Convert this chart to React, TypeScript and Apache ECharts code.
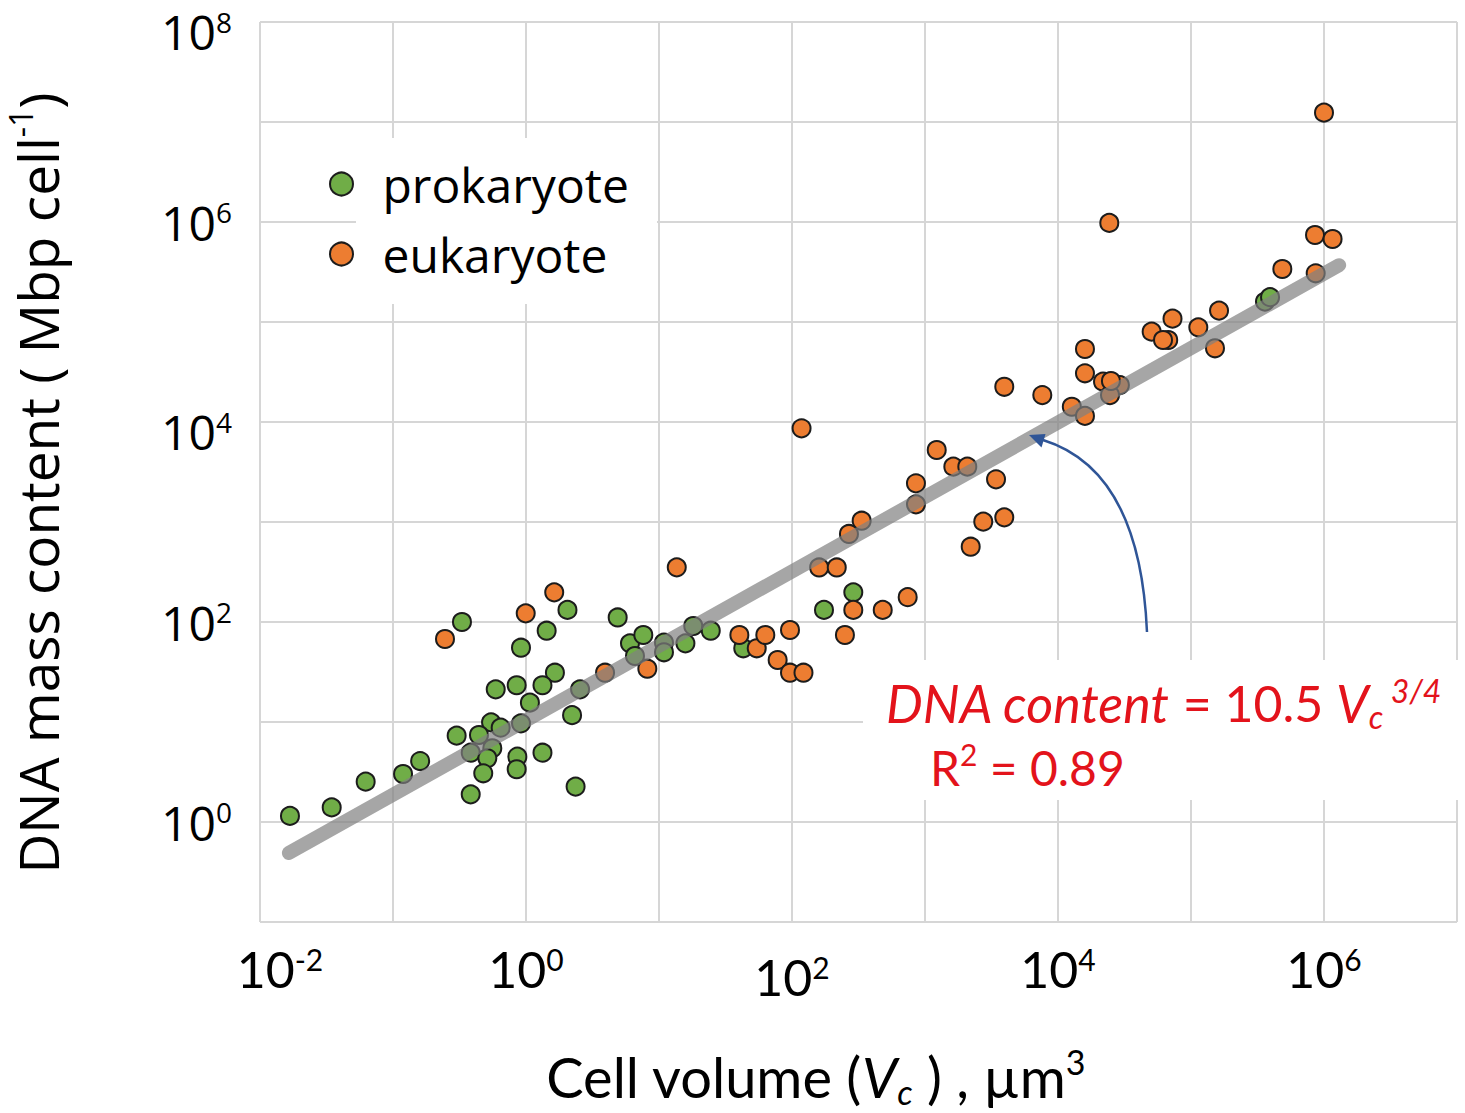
import React, { useEffect, useRef } from 'react';
import * as echarts from 'echarts';

// Cell volume (µm³) and DNA content (Mbp cell⁻¹)
const prokVolume = [
  0.0168, 0.0346, 0.0623, 0.119, 0.16, 0.301, 0.33, 2.05, 4.89, 1.43, 0.917,
  6.05, 7.62, 6.6, 1.65, 0.592, 0.851, 1.33, 1.07, 2.55, 2.22, 0.546, 0.645,
  0.917, 0.443, 0.384, 0.558, 0.512, 0.861, 0.851, 1.33, 0.477, 0.384, 2.36,
  10.9, 10.9, 15.8, 18.1, 24.5, 43.0, 174, 289, 3.6e5, 3.93e5,
];
const prokDNA = [
  1.15, 1.4, 2.53, 3.02, 4.07, 7.3, 100, 132, 111, 81.8, 55.3,
  61.2, 74.1, 45.7, 31.1, 21.2, 23.3, 23.3, 15.6, 21.2, 11.7, 9.93, 8.77,
  9.7, 7.41, 4.93, 5.46, 4.34, 4.5, 3.37, 4.93, 3.07, 1.89, 2.26,
  62.1, 49.8, 61.2, 91.2, 81.8, 54.6, 132, 198, 1.6e5, 1.77e5,
];
const eukVolume = [
  0.246, 1.63, 0.995, 3.93, 13.6, 8.17, 40.2, 54.3, 63, 78, 96.6, 96.6, 122,
  160, 217, 118, 1225, 1633, 2080, 3420, 855, 855, 334, 268, 3945, 2742, 2206,
  289, 481, 741, 250, 24300, 3945, 7620, 15950, 15950, 21800, 29200, 24600,
  12700, 15950, 50600, 67400, 72600, 113500, 151500, 162500, 486000, 866000,
  856000, 1.16e6, 1.0e6, 61600, 25000,
];
const eukDNA = [
  67.6, 198, 122, 31.1, 352, 34.1, 74.1, 54.6, 74.1, 41.7, 83.2, 31.1, 31.1,
  351, 351, 8650, 5250, 3575, 3575, 2673, 2438, 1503, 1030, 759, 1114, 1007, 566,
  132, 132, 177, 74.1, 9.8e5, 22500, 18600, 53700, 30700, 25300, 23400, 18600,
  14200, 11500, 80000, 66100, 108000, 88500, 54600, 130000, 339000, 307000,
  741000, 676000, 1.24e7, 66100, 25700,
];
// fitted line end points (DNA content = 10.5 Vc^3/4)
const fitVolume = [0.0165, 1.3e6];
const fitDNA = [0.49, 3.7e5];

const xLabelExps = [-2, 0, 2, 4, 6];
const yLabelExps = [0, 2, 4, 6, 8];
const seriesNames = ['prokaryote', 'eukaryote'];

const supText = (e: number) => (e < 0 ? '-' + Math.abs(e) : String(e));

export default function App() {
  const ref = useRef<HTMLDivElement>(null);

  useEffect(() => {
    document.body.style.margin = '0';
    if (!ref.current) return;
    const chart = echarts.init(ref.current, undefined, { renderer: 'svg' });

    const gridColor = '#d6d6d6';
    const blue = '#2f5597';
    const red = '#e3131b';

    const yb = { fontFamily: 'Open Sans', fontSize: 48, lineHeight: 48, color: '#000' };
    const ys = { fontFamily: 'Open Sans', fontSize: 28, lineHeight: 28, color: '#000', verticalAlign: 'top' };

    const option: any = {
      animation: false,
      backgroundColor: '#ffffff',
      grid: {
        left: 260,
        top: 22,
        width: 1197,
        height: 900,
        containLabel: false,
        outerBoundsMode: 'none',
      },
      legend: {
        data: seriesNames,
        orient: 'vertical',
        left: 329,
        top: 159,
        padding: 0,
        itemGap: 20,
        itemWidth: 72,
        itemHeight: 23,
        icon: 'circle',
        selectedMode: false,
        textStyle: { fontFamily: 'Open Sans', fontSize: 48, color: '#000', lineHeight: 50 },
      },
      xAxis: {
        type: 'log',
        logBase: 10,
        min: 0.01,
        max: 1e7,
        splitNumber: 9,
        axisLine: { show: false },
        axisTick: { show: false },
        splitLine: { show: true, lineStyle: { color: gridColor, width: 2 } },
        axisLabel: {
          margin: 22,
          fontSize: 8,
          lineHeight: 8,
          formatter: (v: number) => {
            const e = Math.round(Math.log10(v));
            if (!xLabelExps.includes(e)) return '';
            const base = e === -2 ? 'bf' : 'b';
            const lead = e === 2 ? '\n' : '';
            return `${lead}{${base}|10}{s|${supText(e)}}`;
          },
          rich: {
            b: { fontFamily: 'Lato', fontSize: 50, lineHeight: 50, color: '#000' },
            bf: { fontFamily: 'Lato', fontSize: 50, lineHeight: 50, color: '#000', padding: [0, 0, 0, 40] },
            s: { fontFamily: 'Lato', fontSize: 30, lineHeight: 30, color: '#000', verticalAlign: 'top' },
          },
        },
        name: '{n|Cell volume (}{i|V}{sub|c}{n| ) , µm}{sup|3}',
        nameLocation: 'middle',
        nameGap: 122,
        nameTextStyle: {
          padding: [0, 86, 0, 0],
          rich: {
            n: { fontFamily: 'Lato', fontSize: 56, lineHeight: 64, color: '#000' },
            i: { fontFamily: 'Lato', fontSize: 56, lineHeight: 64, color: '#000', fontStyle: 'italic' },
            sub: { fontFamily: 'Lato', fontSize: 34, lineHeight: 34, color: '#000', fontStyle: 'italic', verticalAlign: 'bottom' },
            sup: { fontFamily: 'Lato', fontSize: 34, lineHeight: 34, color: '#000', verticalAlign: 'top' },
          },
        },
      },
      yAxis: {
        type: 'log',
        logBase: 10,
        min: 0.1,
        max: 1e8,
        splitNumber: 9,
        axisLine: { show: false },
        axisTick: { show: false },
        splitLine: { show: true, lineStyle: { color: gridColor, width: 2 } },
        axisLabel: {
          margin: 28,
          formatter: (v: number) => {
            const e = Math.round(Math.log10(v));
            if (!yLabelExps.includes(e)) return '';
            const k = e === 8 || e === 4 ? 'sh' : '';
            return `{b${k}|10}{s${k}|${supText(e)}}`;
          },
          rich: {
            b: yb,
            s: ys,
            bsh: { ...yb, verticalAlign: 'bottom' },
            ssh: { fontFamily: 'Open Sans', fontSize: 28, lineHeight: 66, color: '#000' },
          },
        },
        name: '{n|DNA mass content ( Mbp cell}{sup|-1}{n|)}',
        nameLocation: 'middle',
        nameRotate: 90,
        nameGap: 190,
        nameTextStyle: {
          padding: [0, 22, 0, 0],
          rich: {
            n: { fontFamily: 'Open Sans', fontSize: 55, lineHeight: 66, color: '#000' },
            sup: { fontFamily: 'Open Sans', fontSize: 32, lineHeight: 32, color: '#000', verticalAlign: 'top' },
          },
        },
      },
      series: [
        {
          name: seriesNames[0],
          type: 'scatter',
          data: prokVolume.map((v, i) => [v, prokDNA[i]]),
          symbolSize: 18,
          itemStyle: { color: '#70ad47', borderColor: '#1c1c1c', borderWidth: 2, opacity: 1 },
          z: 2,
        },
        {
          name: seriesNames[1],
          type: 'scatter',
          data: eukVolume.map((v, i) => [v, eukDNA[i]]),
          symbolSize: 18,
          itemStyle: { color: '#ed7d31', borderColor: '#1c1c1c', borderWidth: 2, opacity: 1 },
          z: 2,
        },
        {
          name: 'fit',
          type: 'line',
          data: fitVolume.map((v, i) => [v, fitDNA[i]]),
          symbol: 'none',
          silent: true,
          lineStyle: { color: 'rgba(128,128,128,0.7)', width: 14, cap: 'round' },
          z: 3,
        },
      ],
      graphic: [
        {
          type: 'rect',
          z: 1,
          silent: true,
          shape: { x: 356, y: 138, width: 301, height: 166 },
          style: { fill: '#ffffff' },
        },
        {
          type: 'rect',
          z: 1,
          silent: true,
          shape: { x: 863, y: 660, width: 602, height: 140 },
          style: { fill: '#ffffff' },
        },
        {
          type: 'bezierCurve',
          z: 10,
          silent: true,
          shape: { x1: 1147, y1: 632, cpx1: 1140, cpy1: 470, x2: 1043, y2: 440 },
          style: { stroke: blue, lineWidth: 2.5, fill: 'none' },
        },
        {
          type: 'polygon',
          z: 10,
          silent: true,
          shape: { points: [[1029, 435], [1045.5, 434], [1041.5, 447.5]] },
          style: { fill: blue },
        },
        {
          type: 'text',
          z: 10,
          silent: true,
          x: 886,
          y: 703,
          style: {
            text: '{i|DNA content }{n|= 10.5 }{i|V}{sub|c}{sup| 3/4}',
            verticalAlign: 'middle',
            align: 'left',
            rich: {
              i: { fontFamily: 'Lato', fontSize: 52, lineHeight: 58, fontStyle: 'italic', fill: red },
              n: { fontFamily: 'Lato', fontSize: 50, lineHeight: 58, fill: red },
              sub: { fontFamily: 'Lato', fontSize: 32, lineHeight: 32, fontStyle: 'italic', fill: red, verticalAlign: 'bottom' },
              sup: { fontFamily: 'Lato', fontSize: 32, lineHeight: 32, fontStyle: 'italic', fill: red, verticalAlign: 'top' },
            },
          },
        },
        {
          type: 'text',
          z: 10,
          silent: true,
          x: 930,
          y: 767,
          style: {
            text: '{n|R}{sup|2}{n| = 0.89}',
            verticalAlign: 'middle',
            align: 'left',
            rich: {
              n: { fontFamily: 'Lato', fontSize: 48, lineHeight: 56, fill: red },
              sup: { fontFamily: 'Lato', fontSize: 30, lineHeight: 30, fill: red, verticalAlign: 'top' },
            },
          },
        },
      ],
    };

    chart.setOption(option);
    return () => chart.dispose();
  }, []);

  return <div ref={ref} style={{ width: 1465, height: 1113 }} />;
}
